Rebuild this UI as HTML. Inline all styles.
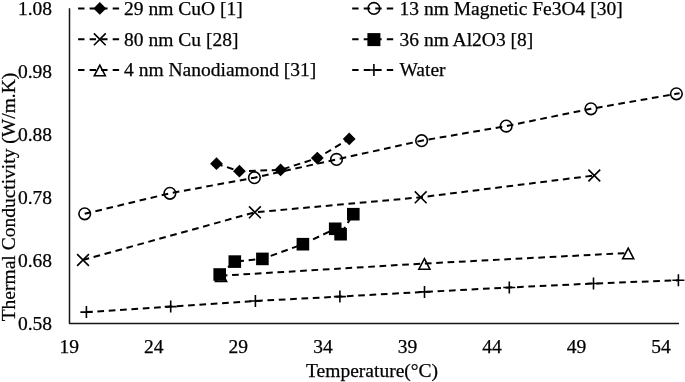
<!DOCTYPE html>
<html><head><meta charset="utf-8"><style>
html,body{margin:0;padding:0;background:#fff;}
svg{display:block;will-change:transform;}
text{font-family:"Liberation Serif",serif;font-size:19.5px;fill:#000;stroke:#000;stroke-width:0.25px;}
</style></head><body>
<svg width="685" height="382" viewBox="0 0 685 382">
<path d="M69.5 8.3V323.5H679" fill="none" stroke="#151515" stroke-width="1.5" stroke-linejoin="round"/>
<text x="52.1" y="14.8" text-anchor="end">1.08</text>
<text x="52.1" y="77.78" text-anchor="end">0.98</text>
<text x="52.1" y="140.76" text-anchor="end">0.88</text>
<text x="52.1" y="203.74" text-anchor="end">0.78</text>
<text x="52.1" y="266.72" text-anchor="end">0.68</text>
<text x="52.1" y="329.7" text-anchor="end">0.58</text>
<text x="69.25" y="352.8" text-anchor="middle">19</text>
<text x="153.8" y="352.8" text-anchor="middle">24</text>
<text x="238.35" y="352.8" text-anchor="middle">29</text>
<text x="322.9" y="352.8" text-anchor="middle">34</text>
<text x="407.45" y="352.8" text-anchor="middle">39</text>
<text x="492" y="352.8" text-anchor="middle">44</text>
<text x="576.55" y="352.8" text-anchor="middle">49</text>
<text x="661.1" y="352.8" text-anchor="middle">54</text>
<text x="306.05" y="376.6">Temperature(°C)</text>
<text transform="translate(14.5 321.3) rotate(-90)" x="0" y="0">Thermal Conductivity (W/m.K)</text>
<polyline points="216.5,163.7 239.4,171.2 280.6,169.9 317.3,158.1 349.2,138.9" fill="none" stroke="#000" stroke-width="2.0" stroke-dasharray="6.7,4.66" stroke-dashoffset="0.35"/>
<path d="M216.5 157.3L222.9 163.7L216.5 170.1L210.1 163.7Z" fill="#000"/>
<path d="M239.4 164.8L245.8 171.2L239.4 177.6L233 171.2Z" fill="#000"/>
<path d="M280.6 163.5L287 169.9L280.6 176.3L274.2 169.9Z" fill="#000"/>
<path d="M317.3 151.7L323.7 158.1L317.3 164.5L310.9 158.1Z" fill="#000"/>
<path d="M349.2 132.5L355.6 138.9L349.2 145.3L342.8 138.9Z" fill="#000"/>
<polyline points="84.7,213.8 169.9,193.3 254.4,177.7 336.5,159.4 421.6,140.7 506.2,126.1 590.9,108.8 676.4,93.8 679.6,93.25" fill="none" stroke="#000" stroke-width="2.0" stroke-dasharray="6.7,4.66" stroke-dashoffset="0.35"/>
<circle cx="84.7" cy="213.8" r="5.8" fill="none" stroke="#000" stroke-width="1.6"/>
<circle cx="169.9" cy="193.3" r="5.8" fill="none" stroke="#000" stroke-width="1.6"/>
<circle cx="254.4" cy="177.7" r="5.8" fill="none" stroke="#000" stroke-width="1.6"/>
<circle cx="336.5" cy="159.4" r="5.8" fill="none" stroke="#000" stroke-width="1.6"/>
<circle cx="421.6" cy="140.7" r="5.8" fill="none" stroke="#000" stroke-width="1.6"/>
<circle cx="506.2" cy="126.1" r="5.8" fill="none" stroke="#000" stroke-width="1.6"/>
<circle cx="590.9" cy="108.8" r="5.8" fill="none" stroke="#000" stroke-width="1.6"/>
<circle cx="676.4" cy="93.8" r="5.8" fill="none" stroke="#000" stroke-width="1.6"/>
<polyline points="83,260 254.9,212.3 420.7,197.3 594.3,175.5" fill="none" stroke="#000" stroke-width="2.0" stroke-dasharray="6.7,4.66" stroke-dashoffset="0.35"/>
<path d="M77.1 254.1L88.9 265.9M77.1 265.9L88.9 254.1" stroke="#000" stroke-width="1.6" fill="none"/>
<path d="M249 206.4L260.8 218.2M249 218.2L260.8 206.4" stroke="#000" stroke-width="1.6" fill="none"/>
<path d="M414.8 191.4L426.6 203.2M414.8 203.2L426.6 191.4" stroke="#000" stroke-width="1.6" fill="none"/>
<path d="M588.4 169.6L600.2 181.4M588.4 181.4L600.2 169.6" stroke="#000" stroke-width="1.6" fill="none"/>
<polyline points="219.7,274.5 234.8,261.6 262.4,258.9 302.9,244.2 335.2,228.8 340.6,234.2 353.3,214.2" fill="none" stroke="#000" stroke-width="2.0" stroke-dasharray="6.7,4.66" stroke-dashoffset="0.35"/>
<rect x="213.4" y="268.2" width="12.6" height="12.6" fill="#000"/>
<rect x="228.5" y="255.3" width="12.6" height="12.6" fill="#000"/>
<rect x="256.1" y="252.6" width="12.6" height="12.6" fill="#000"/>
<rect x="296.6" y="237.9" width="12.6" height="12.6" fill="#000"/>
<rect x="328.9" y="222.5" width="12.6" height="12.6" fill="#000"/>
<rect x="334.3" y="227.9" width="12.6" height="12.6" fill="#000"/>
<rect x="347" y="207.9" width="12.6" height="12.6" fill="#000"/>
<polyline points="221.1,275.7 424.4,263.5 628.2,253" fill="none" stroke="#000" stroke-width="2.0" stroke-dasharray="6.7,4.66" stroke-dashoffset="0.35"/>
<path d="M221.1 270.9L226.6 281.4L215.6 281.4Z" fill="none" stroke="#000" stroke-width="1.6" stroke-linejoin="miter"/>
<path d="M424.4 258.7L429.9 269.2L418.9 269.2Z" fill="none" stroke="#000" stroke-width="1.6" stroke-linejoin="miter"/>
<path d="M628.2 248.2L633.7 258.7L622.7 258.7Z" fill="none" stroke="#000" stroke-width="1.6" stroke-linejoin="miter"/>
<polyline points="86.4,312.1 170.7,306.6 255.4,301 339.9,296.6 424.5,291.9 509.3,287.5 593.5,283.5 678.4,280.3" fill="none" stroke="#000" stroke-width="2.0" stroke-dasharray="6.7,4.66" stroke-dashoffset="0.35"/>
<path d="M80.4 312.1L92.4 312.1M86.4 306.1L86.4 318.1" stroke="#000" stroke-width="1.6" fill="none"/>
<path d="M164.7 306.6L176.7 306.6M170.7 300.6L170.7 312.6" stroke="#000" stroke-width="1.6" fill="none"/>
<path d="M249.4 301L261.4 301M255.4 295L255.4 307" stroke="#000" stroke-width="1.6" fill="none"/>
<path d="M333.9 296.6L345.9 296.6M339.9 290.6L339.9 302.6" stroke="#000" stroke-width="1.6" fill="none"/>
<path d="M418.5 291.9L430.5 291.9M424.5 285.9L424.5 297.9" stroke="#000" stroke-width="1.6" fill="none"/>
<path d="M503.3 287.5L515.3 287.5M509.3 281.5L509.3 293.5" stroke="#000" stroke-width="1.6" fill="none"/>
<path d="M587.5 283.5L599.5 283.5M593.5 277.5L593.5 289.5" stroke="#000" stroke-width="1.6" fill="none"/>
<path d="M672.4 280.3L684.4 280.3M678.4 274.3L678.4 286.3" stroke="#000" stroke-width="1.6" fill="none"/>
<path d="M78.1 8.4H119.1" stroke="#000" stroke-width="2.0" stroke-dasharray="6.4,5.13"/>
<path d="M99.8 2L106.2 8.4L99.8 14.8L93.4 8.4Z" fill="#000"/>
<text x="124.1" y="14.6">29 nm CuO [1]</text>
<path d="M352.2 8.4H393.2" stroke="#000" stroke-width="2.0" stroke-dasharray="6.4,5.13"/>
<circle cx="373.9" cy="8.4" r="5.8" fill="none" stroke="#000" stroke-width="1.6"/>
<text x="399.5" y="14.6">13 nm Magnetic Fe3O4 [30]</text>
<path d="M78.1 39.3H119.1" stroke="#000" stroke-width="2.0" stroke-dasharray="6.4,5.13"/>
<path d="M93.9 33.4L105.7 45.2M93.9 45.2L105.7 33.4" stroke="#000" stroke-width="1.6" fill="none"/>
<text x="124.1" y="45.5">80 nm Cu [28]</text>
<path d="M352.2 39.3H393.2" stroke="#000" stroke-width="2.0" stroke-dasharray="6.4,5.13"/>
<rect x="367.4" y="33.1" width="13" height="13" fill="#000"/>
<text x="399.5" y="45.5">36 nm Al2O3 [8]</text>
<path d="M78.1 70H119.1" stroke="#000" stroke-width="2.0" stroke-dasharray="6.4,5.13"/>
<path d="M99.8 65.2L105.3 75.7L94.3 75.7Z" fill="none" stroke="#000" stroke-width="1.6" stroke-linejoin="miter"/>
<text x="124.1" y="76.2">4 nm Nanodiamond [31]</text>
<path d="M352.2 70H393.2" stroke="#000" stroke-width="2.0" stroke-dasharray="6.4,5.13"/>
<path d="M367.9 70L379.9 70M373.9 64L373.9 76" stroke="#000" stroke-width="1.6" fill="none"/>
<text x="399.5" y="76.2">Water</text>
</svg>
</body></html>
